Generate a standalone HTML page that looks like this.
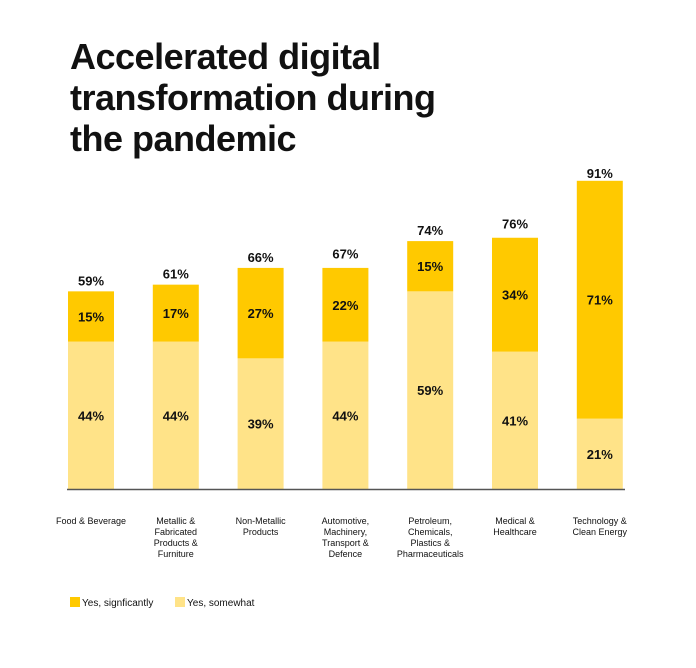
<!DOCTYPE html>
<html><head><meta charset="utf-8"><style>
body{margin:0;background:#fff;width:696px;height:668px;overflow:hidden;font-family:"Liberation Sans",Arial,sans-serif}
h1{position:absolute;left:70px;top:36px;margin:0;font-size:36px;line-height:41px;font-weight:bold;color:#111;letter-spacing:-0.5px}
</style></head><body>
<h1>Accelerated digital<br>transformation during<br>the pandemic</h1>
<svg id="chart" width="696" height="668" style="position:absolute;left:0;top:0">
</svg>
<script>
const categories=[["Food & Beverage"],["Metallic &","Fabricated","Products &","Furniture"],["Non-Metallic","Products"],["Automotive,","Machinery,","Transport &","Defence"],["Petroleum,","Chemicals,","Plastics &","Pharmaceuticals"],["Medical &","Healthcare"],["Technology &","Clean Energy"]];
const somewhat=[44,44,39,44,59,41,21];
const significantly=[15,17,27,22,15,34,71];
const totals=[59,61,66,67,74,76,91];
const NS="http://www.w3.org/2000/svg";
const svg=document.getElementById('chart');
const base=489,scale=3.35,x0=68,step=84.8,bw=46;
const xPos=i=>x0+i*step;
const yPos=v=>base-v*scale;
function mk(t,a){const e=document.createElementNS(NS,t);for(const k in a)e.setAttribute(k,a[k]);svg.appendChild(e);return e;}
function txt(x,y,s,size,w){const e=mk('text',{x:x,y:y,'text-anchor':'middle','font-size':size,'font-weight':w,fill:'#111','font-family':'Liberation Sans, Arial, sans-serif'});e.textContent=s;return e;}
categories.forEach((c,i)=>{
  const x=xPos(i);
  const a=somewhat[i],b=significantly[i];
  let r=mk('rect',{x:x,y:yPos(a),width:bw,height:a*scale,fill:'#FFE388'});
  
  
  r=mk('rect',{x:x,y:yPos(a+b),width:bw,height:b*scale,fill:'#FFC900'});
  
  
  let t=txt(x+bw/2,(yPos(a)+base)/2+5,somewhat[i]+'%',13,'bold');
  
  
  t=txt(x+bw/2,(yPos(a)+yPos(a+b))/2+5,significantly[i]+'%',13,'bold');
  
  
  t=txt(x+bw/2,yPos(totals[i])-6,totals[i]+'%',13,'bold');
  
  
  c.forEach((l,j)=>{
    const lt=txt(x+bw/2,524+j*11,l,9,'normal');
    
    
  });
});
const ax=mk('line',{x1:67,x2:625,y1:489.5,y2:489.5,stroke:'#555','stroke-width':1.5});


let lg=mk('rect',{x:70,y:597,width:10,height:10,fill:'#FFC900'});


let lt=mk('text',{x:82,y:606,'font-size':10,fill:'#111','font-family':'Liberation Sans, Arial, sans-serif'});lt.textContent='Yes, signficantly';


lg=mk('rect',{x:175,y:597,width:10,height:10,fill:'#FFE388'});


lt=mk('text',{x:187,y:606,'font-size':10,fill:'#111','font-family':'Liberation Sans, Arial, sans-serif'});lt.textContent='Yes, somewhat';


</script>
</body></html>
